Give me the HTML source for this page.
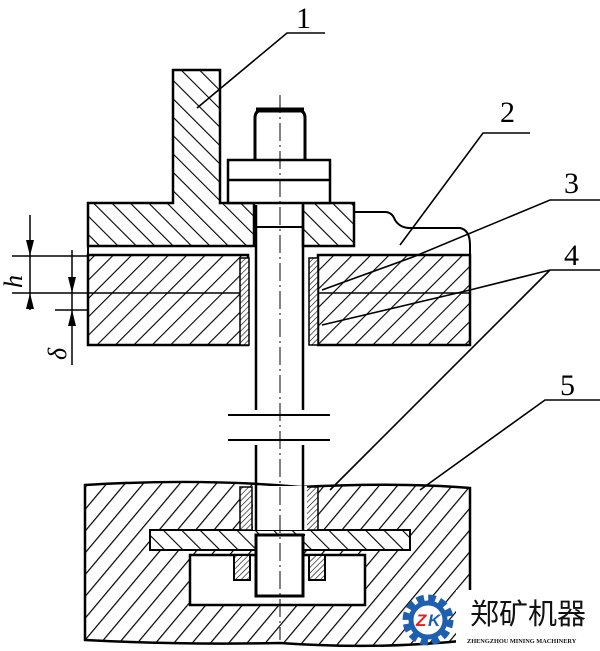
<!DOCTYPE html>
<html><head><meta charset="utf-8"><style>html,body{margin:0;padding:0;background:#fff}svg{display:block}</style></head>
<body>
<svg width="600" height="651" viewBox="0 0 600 651" xmlns="http://www.w3.org/2000/svg">
<defs>
<pattern id="hb" patternUnits="userSpaceOnUse" width="13" height="13" patternTransform="rotate(-45)">
<line x1="0" y1="0" x2="0" y2="13" stroke="#000" stroke-width="2.2"/></pattern>
<pattern id="hf" patternUnits="userSpaceOnUse" width="13" height="13" patternTransform="rotate(45)">
<line x1="0" y1="0" x2="0" y2="13" stroke="#000" stroke-width="2.2"/></pattern>
<pattern id="hf2" patternUnits="userSpaceOnUse" width="14" height="14" patternTransform="rotate(40)">
<line x1="0" y1="0" x2="0" y2="14" stroke="#000" stroke-width="2.4"/></pattern>
<pattern id="hs" patternUnits="userSpaceOnUse" width="4" height="4" patternTransform="rotate(45)">
<line x1="0" y1="0" x2="0" y2="4" stroke="#000" stroke-width="1.2"/></pattern>
</defs>
<g stroke="#000" stroke-width="2.5" fill="none">
<path d="M173,70 H220 V203 H254 V246 H88 V203 H173 Z" fill="url(#hb)"/>
<path d="M303,203 H354 V246 H303 Z" fill="url(#hb)"/>
<path d="M354,212 H385 Q392,212 395,220 Q400,228 410,228 H460 Q470,230 470,245 V345" stroke-width="2"/>
<rect x="228" y="160" width="102" height="43" fill="#fff"/>
<line x1="228" y1="180" x2="330" y2="180"/>
<path d="M255,160 V118 Q255,110 263,110 H297 Q305,110 305,118 V160" stroke-width="3"/>
<path d="M256,110 H304" stroke-width="5"/>
<path d="M88,255 H248 V345 H88 Z" fill="url(#hf)"/>
<path d="M318,255 H470 V345 H318 Z" fill="url(#hf)"/>
<rect x="240" y="258" width="9" height="87" fill="#fff" stroke="none"/>
<rect x="309" y="258" width="9" height="87" fill="#fff" stroke="none"/>
<rect x="240" y="258" width="9" height="87" fill="url(#hs)" stroke-width="1.5"/>
<rect x="309" y="258" width="9" height="87" fill="url(#hs)" stroke-width="1.5"/>
<line x1="88" y1="246" x2="88" y2="255" stroke-width="2"/>
<line x1="88" y1="293" x2="240" y2="293" stroke-width="1.5"/>
<line x1="318" y1="293" x2="470" y2="293" stroke-width="1.5"/>
<line x1="256" y1="205" x2="256" y2="410"/>
<line x1="303" y1="205" x2="303" y2="410"/>
<line x1="256" y1="445" x2="256" y2="598"/>
<line x1="303" y1="445" x2="303" y2="598"/>
<line x1="256" y1="227" x2="303" y2="227" stroke-width="2"/>
<line x1="228" y1="415" x2="330" y2="415" stroke-width="2"/>
<line x1="228" y1="440" x2="330" y2="440" stroke-width="2"/>
<path d="M85,485 Q200,478 300,487 Q400,482 470,488 V640 Q380,650 280,643 Q180,645 85,640 Z" fill="url(#hf2)"/>
<path d="M190,555 H365 V605 H190 Z" fill="#fff"/>
<path d="M150,530 H410 V550 H150 Z" fill="#fff" stroke="none"/>
<path d="M150,530 H410 V550 H150 Z" fill="url(#hb)" stroke-width="2"/>
<rect x="240" y="487" width="12" height="43" fill="#fff" stroke="none"/>
<rect x="306" y="487" width="12" height="43" fill="#fff" stroke="none"/>
<rect x="240" y="487" width="12" height="43" fill="url(#hs)" stroke-width="1.5"/>
<rect x="306" y="487" width="12" height="43" fill="url(#hs)" stroke-width="1.5"/>
<rect x="253" y="486" width="54" height="44" fill="#fff" stroke="none"/>
<line x1="256" y1="486" x2="256" y2="530"/>
<line x1="303" y1="486" x2="303" y2="530"/>
<path d="M234,555 H250 V580 H234 Z M309,555 H325 V580 H309 Z" fill="#fff" stroke="none"/>
<path d="M234,555 H250 V580 H234 Z M309,555 H325 V580 H309 Z" fill="url(#hs)" stroke-width="2"/>
<path d="M256,535 V596 H303 V535 Z" fill="#fff" stroke-width="3"/>
<line x1="255" y1="535" x2="305" y2="535" stroke-width="2"/>
<line x1="280" y1="95" x2="280" y2="640" stroke-width="1" stroke-dasharray="18,4,2,4"/>
<g stroke-width="1.5">
<line x1="12" y1="256" x2="88" y2="256"/>
<line x1="12" y1="293" x2="88" y2="293"/>
<line x1="55" y1="310" x2="88" y2="310"/>
<line x1="30" y1="215" x2="30" y2="310"/>
<line x1="72" y1="250" x2="72" y2="365"/>
</g>
</g>
<g fill="#000">
<path d="M26,240 L34,240 L30,256 Z"/><path d="M26,309 L34,309 L30,293 Z"/>
<path d="M68,277 L76,277 L72,293 Z"/><path d="M68,326 L76,326 L72,310 Z"/>
</g>
<g font-family="Liberation Serif, serif" font-style="italic" font-size="26">
<text x="0" y="0" transform="translate(22,288) rotate(-90)">h</text>
<text x="0" y="0" transform="translate(66,360) rotate(-90)">δ</text>
</g>
<g stroke="#000" stroke-width="1.6" fill="none">
<path d="M325,33 H287 L197,108"/>
<path d="M530,133 H483 L400,245"/>
<path d="M600,200 H550 L413,257 L322,290"/>
<path d="M600,270 H550 L470,290 L322,325"/>
<path d="M550,270 L330,490"/>
<path d="M600,400 H545 L420,490"/>
</g>
<g font-family="Liberation Serif, serif" font-size="30">
<text x="296" y="28">1</text>
<text x="500" y="122">2</text>
<text x="564" y="193">3</text>
<text x="564" y="265">4</text>
<text x="560" y="395">5</text>
</g>
<g transform="translate(428,620)">
<circle r="21" fill="none" stroke="#1f5fb0" stroke-width="9" stroke-dasharray="7,4"/>
<circle r="17" fill="#fff" stroke="#1f5fb0" stroke-width="5"/>
<text x="-12" y="6" font-family="Liberation Sans, sans-serif" font-weight="bold" font-style="italic" font-size="17" fill="#e02020">Z</text>
<text x="0" y="6" font-family="Liberation Sans, sans-serif" font-weight="bold" font-style="italic" font-size="17" fill="#1f5fb0">K</text>
</g>
<rect x="456" y="590" width="144" height="61" fill="#fff"/>
<text x="470" y="624" font-family="Liberation Sans, 'Noto Sans CJK SC', sans-serif" font-size="29" fill="#111">郑矿机器</text>
<text x="467" y="643" font-family="Liberation Serif, serif" font-weight="bold" font-size="6.3" fill="#111">ZHENGZHOU MINING MACHINERY</text>
</svg>
</body></html>
